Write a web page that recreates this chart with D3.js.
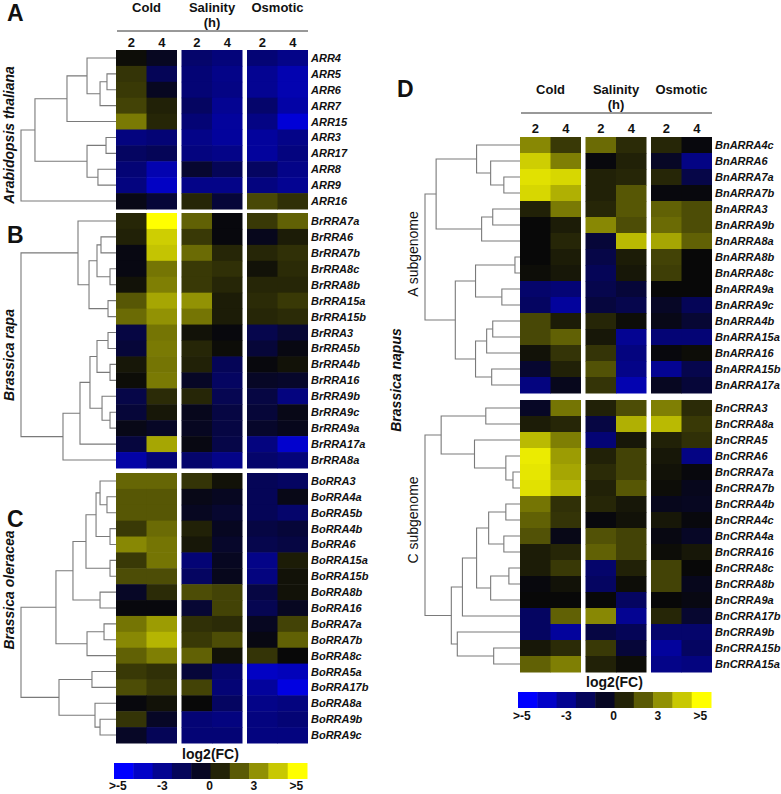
<!DOCTYPE html>
<html><head><meta charset="utf-8">
<script src="https://cdn.jsdelivr.net/npm/d3@7"></script>
<style>body{margin:0;background:#fff} text{font-family:"Liberation Sans",Arial,sans-serif}</style>
</head><body><svg id="c" width="781" height="794"></svg>
<script>
// ---------------- DATA ----------------
const stresses = ["Cold", "Salinity", "Osmotic"];
const hours = ["2", "4"];

const rowsA = ["ARR4","ARR5","ARR6","ARR7","ARR15","ARR3","ARR17","ARR8","ARR9","ARR16"];
const valsA = [
  [0.1,-0.5,-2.0,-2.3,-2.2,-2.6],
  [0.9,-1.6,-2.2,-2.6,-2.8,-3.4],
  [1.0,-0.5,-2.2,-2.5,-2.8,-3.4],
  [1.2,0.5,-1.8,-2.8,-2.0,-3.2],
  [2.3,0.6,-2.2,-3.0,-2.5,-4.2],
  [-2.4,-2.2,-2.6,-3.0,-3.0,-2.6],
  [-1.8,-1.6,-2.4,-2.6,-3.0,-2.4],
  [-2.2,-3.4,-0.8,-1.6,-1.8,-2.6],
  [-2.4,-3.8,-2.6,-2.6,-2.4,-2.8],
  [-0.3,-1.0,0.6,-1.0,1.3,0.8]
];
const treeA = [1.0, [0.853, [0.516, [0.305, "ARR4", [0.168, [0.095,"ARR5","ARR6"], "ARR7"]], "ARR15"],
                            [0.305, [0.105,"ARR3","ARR17"], [0.19,"ARR8","ARR9"]]], "ARR16"];

const rowsB = ["BrRRA7a","BrRRA6","BrRRA7b","BrRRA8c","BrRRA8b","BrRRA15a","BrRRA15b","BrRRA3","BrRRA5b","BrRRA4b","BrRRA16","BrRRA9b","BrRRA9c","BrRRA9a","BrRRA17a","BrRRA8a"];
const valsB = [
  [0.6,5.0,1.8,-0.1,1.0,1.8],
  [0.5,4.0,1.0,-0.1,-0.4,0.4],
  [-0.2,3.8,2.0,0.6,0.6,0.8],
  [-0.2,2.2,1.0,0.8,0.2,0.7],
  [0.2,2.4,1.0,0.6,0.6,0.6],
  [1.6,3.2,2.8,0.4,0.7,1.0],
  [2.0,2.8,2.2,0.4,0.6,0.7],
  [-1.2,2.2,0.2,-0.1,-1.4,-0.9],
  [-1.0,2.3,0.6,0.1,-1.0,-0.2],
  [0.3,2.2,0.5,-1.6,-0.1,0.2],
  [0.1,2.3,-0.6,-1.8,-0.6,-0.7],
  [-1.3,0.7,0.6,-1.5,-1.2,-2.4],
  [-1.0,0.3,-0.4,-1.2,-1.0,-0.3],
  [-0.3,-0.6,-0.5,-1.2,-0.7,-0.4],
  [-1.1,3.2,-0.2,-1.3,-2.4,-4.0],
  [-3.2,-2.2,-2.0,-2.6,-2.0,-2.3]
];
const treeB = [1.0,
  [0.40, "BrRRA7a", [0.284, [0.20, [0.158,"BrRRA6","BrRRA7b"], [0.063,"BrRRA8c","BrRRA8b"]], [0.084,"BrRRA15a","BrRRA15b"]]],
  [0.558, [0.379, [0.274, [0.20, [0.084,"BrRRA3","BrRRA5b"], [0.063,"BrRRA4b","BrRRA16"]],
                          [0.147, "BrRRA9b", [0.063,"BrRRA9c","BrRRA9a"]]], "BrRRA17a"], "BrRRA8a"]];

const rowsC = ["BoRRA3","BoRRA4a","BoRRA5b","BoRRA4b","BoRRA6","BoRRA15a","BoRRA15b","BoRRA8b","BoRRA16","BoRRA7a","BoRRA7b","BoRRA8c","BoRRA5a","BoRRA17b","BoRRA8a","BoRRA9b","BoRRA9c"];
const valsC = [
  [1.9,1.9,0.9,0.2,-1.6,-1.8],
  [1.6,1.6,-0.3,-0.5,-1.6,-0.3],
  [1.6,1.6,-0.5,-0.8,-1.6,-2.0],
  [1.0,2.0,0.5,-0.5,-1.2,-1.0],
  [2.6,2.2,0.3,-0.7,-1.4,-1.2],
  [1.0,2.2,-2.2,-0.5,-2.6,0.4],
  [1.4,1.4,-1.8,-0.4,-2.4,0.2],
  [-0.6,0.7,1.4,1.2,-1.2,0.2],
  [-0.1,-0.1,-0.9,1.2,-1.5,-0.5],
  [2.2,3.0,0.8,0.7,-0.5,1.2],
  [2.6,3.5,1.0,1.4,-0.2,1.8],
  [1.8,2.4,1.8,0.2,0.9,0.0],
  [1.0,0.8,-1.0,-2.0,-3.8,-3.6],
  [1.4,1.0,1.2,-2.2,-3.0,-4.4],
  [-0.1,0.2,0.0,-1.8,-2.6,-2.4],
  [0.9,-0.6,-2.2,-2.4,-2.4,-2.2],
  [-0.6,-1.6,-2.2,-2.2,-2.4,-2.4]
];
const treeC = [1.0,
  [0.632, [0.453, [0.316, [0.21, [0.168, "BoRRA3", [0.095,"BoRRA4a","BoRRA5b"]], [0.063,"BoRRA4b","BoRRA6"]],
                          [0.063,"BoRRA15a","BoRRA15b"]], [0.168,"BoRRA8b","BoRRA16"]],
          [0.305, [0.126,"BoRRA7a","BoRRA7b"], "BoRRA8c"]],
  [0.60, [0.253,"BoRRA5a","BoRRA17b"], [0.221, "BoRRA8a", [0.168,"BoRRA9b","BoRRA9c"]]]];

const rowsDA = ["BnARRA4c","BnARRA6","BnARRA7a","BnARRA7b","BnARRA3","BnARRA9b","BnARRA8a","BnARRA8b","BnARRA8c","BnARRA9a","BnARRA9c","BnARRA4b","BnARRA15a","BnARRA16","BnARRA15b","BnARRA17a"];
const valsDA = [
  [2.6,1.0,2.0,0.7,0.6,-0.1],
  [4.0,2.4,-0.1,0.5,-0.6,-2.5],
  [4.4,4.2,0.5,0.6,0.6,-1.3],
  [4.2,3.4,0.5,1.6,-0.1,-0.1],
  [0.5,2.3,0.6,1.6,1.8,1.4],
  [0.0,0.4,2.6,1.4,2.0,1.4],
  [0.0,0.6,-1.0,3.6,3.2,1.8],
  [0.0,0.4,-1.3,0.4,1.2,0.0],
  [0.1,0.3,-1.6,0.3,1.1,0.0],
  [-2.0,-2.2,-1.4,-1.0,0.0,0.0],
  [-1.8,-3.0,-1.1,-1.4,-0.6,-1.6],
  [1.3,0.4,0.6,0.1,-0.3,-0.9],
  [1.3,1.8,0.3,-2.8,-2.2,-2.2],
  [0.2,0.9,0.9,-2.4,-0.1,0.1],
  [-0.8,0.5,1.5,-2.6,-2.8,-1.4],
  [-2.4,-0.4,0.9,-3.4,-0.5,-1.0]
];
const treeDA = [1.0,
  [0.883, [0.457, "BnARRA4c", [0.309, "BnARRA6", [0.17,"BnARRA7a","BnARRA7b"]]],
          [0.404, [0.287,"BnARRA3","BnARRA9b"], "BnARRA8a"]],
  [0.681, [0.468, [0.053,"BnARRA8b","BnARRA8c"], [0.191,"BnARRA9a","BnARRA9c"]],
          [0.468, [0.351, [0.287,"BnARRA4b","BnARRA15a"], "BnARRA16"], [0.298,"BnARRA15b","BnARRA17a"]]]];

const rowsDC = ["BnCRRA3","BnCRRA8a","BnCRRA5","BnCRRA6","BnCRRA7a","BnCRRA7b","BnCRRA4b","BnCRRA4c","BnCRRA4a","BnCRRA16","BnCRRA8c","BnCRRA8b","BnCRRA9a","BnCRRA17b","BnCRRA9b","BnCRRA15b","BnCRRA15a"];
const valsDC = [
  [-0.6,2.2,0.5,1.4,2.4,0.7],
  [0.4,0.6,-1.2,3.4,3.6,1.0],
  [3.6,2.4,-2.2,0.3,0.5,0.8],
  [4.6,3.0,0.5,1.2,0.3,-2.5],
  [4.5,3.2,0.7,1.2,0.2,-0.1],
  [4.4,3.5,0.5,1.6,0.1,-0.4],
  [2.2,0.8,0.6,0.3,-0.4,-0.5],
  [1.8,0.9,-0.1,0.2,0.3,-0.1],
  [1.5,-0.3,1.5,1.2,-0.2,-0.6],
  [0.4,0.6,1.8,1.2,0.1,0.3],
  [0.4,1.0,-2.0,0.5,1.2,0.0],
  [-0.1,0.2,-1.8,0.1,1.2,-0.4],
  [0.0,0.0,0.0,-1.8,0.0,-0.2],
  [-1.8,1.8,2.6,-2.8,0.6,-0.8],
  [-1.8,-3.0,-1.2,-1.6,-2.0,-2.0],
  [0.3,0.7,1.0,-1.0,-3.0,-1.8],
  [1.8,2.4,0.5,0.1,-2.6,-2.4]
];
const treeDC = [1.0,
  [0.83, [0.36,"BnCRRA3","BnCRRA8a"], [0.479, "BnCRRA5", [0.149, "BnCRRA6", [0.074,"BnCRRA7a","BnCRRA7b"]]]],
  [0.723, [0.606, [0.457, [0.33, [0.149,"BnCRRA4b","BnCRRA4c"], [0.17,"BnCRRA4a","BnCRRA16"]],
                          [0.309, [0.117,"BnCRRA8c","BnCRRA8b"], "BnCRRA9a"]], "BnCRRA17b"],
          [0.66, "BnCRRA9b", [0.277,"BnCRRA15b","BnCRRA15a"]]]];

const legendValues = [-5, -3.889, -2.778, -1.667, -0.556, 0.556, 1.667, 2.778, 3.889, 5];
const legendTicks = [">-5", "-3", "0", "3", ">5"];
const legendTickPos = [0.2, 2.5, 4.95, 7.25, 9.45];

// ---------------- DRAWING ----------------
const svg = d3.select("#c");
const color = d3.scaleLinear().domain([-5, 0, 5]).range(["#0000ff", "#080808", "#ffff00"]).clamp(true);
const font = "'Liberation Sans', Arial, sans-serif";

function heatPanel(cfg) {
  const { rows, vals, tree, left, top, bottom } = cfg;
  const width = 192;
  const g = svg.append("g");
  const y = d3.scaleBand().domain(rows).range([top, bottom]);
  const gx = d3.scaleBand().domain(stresses).range([left, left + width]).paddingInner(0.0687);
  const hx = d3.scaleBand().domain(hours).range([0, gx.bandwidth()]);
  const cells = [];
  rows.forEach((r, i) => stresses.forEach((s, si) => hours.forEach((h, hi) => {
    cells.push({ r, s, h, v: vals[i][si * 2 + hi] });
  })));
  g.selectAll("rect.cell").data(cells).join("rect")
    .attr("x", d => gx(d.s) + hx(d.h))
    .attr("y", d => y(d.r))
    .attr("width", d => hx.bandwidth() + (d.h === "2" ? 0.5 : 0))
    .attr("height", y.bandwidth() + 0.5)
    .attr("fill", d => color(d.v));
  // row labels
  g.selectAll("text.lab").data(rows).join("text")
    .attr("x", left + width + 3)
    .attr("y", d => y(d) + y.bandwidth() / 2 + 4)
    .attr("font-size", "11px").attr("font-weight", "bold").attr("font-style", "italic")
    .attr("fill", "#111").attr("font-family", font)
    .text(d => d);
  // dendrogram
  const hs = d3.scaleLinear().domain([0, 1]).range([left, left - 95]);
  const dg = svg.append("g").attr("stroke", "#7a7a7a").attr("stroke-width", 1.1).attr("fill", "none");
  function lay(node) {
    if (typeof node === "string") return { x: left, y: y(node) + y.bandwidth() / 2 };
    const a = lay(node[1]), b = lay(node[2]);
    const x = hs(node[0]);
    const p = d3.path();
    p.moveTo(a.x, a.y); p.lineTo(x, a.y); p.lineTo(x, b.y); p.lineTo(b.x, b.y);
    dg.append("path").attr("d", p.toString());
    return { x, y: (a.y + b.y) / 2 };
  }
  lay(tree);
}

function header(left, opt) {
  const width = 192;
  const gx = d3.scaleBand().domain(stresses).range([left, left + width]).paddingInner(0.0687);
  const hx = d3.scaleBand().domain(hours).range([0, gx.bandwidth()]);
  const g = svg.append("g").attr("font-family", font).attr("font-weight", "bold").attr("fill", "#111");
  g.selectAll("text.s").data(stresses).join("text")
    .attr("x", d => gx(d) + gx.bandwidth() / 2).attr("y", opt.titleY)
    .attr("text-anchor", "middle").attr("font-size", "13px").text(d => d);
  g.append("text").attr("x", gx("Salinity") + gx.bandwidth() / 2).attr("y", opt.hY)
    .attr("text-anchor", "middle").attr("font-size", "13px").text("(h)");
  g.append("line").attr("x1", left + 1).attr("x2", left + width).attr("y1", opt.lineY).attr("y2", opt.lineY)
    .attr("stroke", "#333").attr("stroke-width", 1);
  const nums = [];
  stresses.forEach(s => hours.forEach(h => nums.push({ s, h })));
  g.selectAll("text.n").data(nums).join("text")
    .attr("x", d => gx(d.s) + hx(d.h) + hx.bandwidth() / 2).attr("y", opt.numY)
    .attr("text-anchor", "middle").attr("font-size", "13px").text(d => d.h);
}

function legend(x0, y0, titleY, tickY) {
  const w = 193, h = 16;
  const bx = d3.scaleBand().domain(d3.range(legendValues.length)).range([x0, x0 + w]);
  const lx = d3.scaleLinear().domain([0, legendValues.length]).range([x0, x0 + w]);
  svg.append("g").selectAll("rect").data(legendValues).join("rect")
    .attr("x", (d, i) => bx(i)).attr("y", y0).attr("width", bx.bandwidth() + 0.5).attr("height", h)
    .attr("fill", d => color(d));
  svg.append("text").attr("x", x0 + w / 2).attr("y", titleY).attr("text-anchor", "middle")
    .attr("font-family", font).attr("font-weight", "bold").attr("font-size", "14px").attr("fill", "#111").text("log2(FC)");
  svg.append("g").selectAll("text").data(legendTicks).join("text")
    .attr("x", (d, i) => lx(legendTickPos[i])).attr("y", tickY).attr("text-anchor", "middle")
    .attr("font-family", font).attr("font-weight", "bold").attr("font-size", "12px").attr("fill", "#111")
    .text(d => d);
}

function vlabel(x, yc, txt, italic, bold) {
  svg.append("text").attr("transform", `translate(${x},${yc}) rotate(-90)`)
    .attr("text-anchor", "middle").attr("font-family", font)
    .attr("font-size", "14px").attr("font-weight", bold ? "bold" : "normal")
    .attr("font-style", italic ? "italic" : "normal").attr("fill", "#111").text(txt);
}
function plabel(x, y, t) {
  svg.append("text").attr("x", x).attr("y", y).attr("font-family", font)
    .attr("font-weight", "bold").attr("font-size", "23px").attr("fill", "#111").text(t);
}

// left column
header(116, { titleY: 12, hY: 27, lineY: 31, numY: 47 });
heatPanel({ rows: rowsA, vals: valsA, tree: treeA, left: 116, top: 50, bottom: 209 });
heatPanel({ rows: rowsB, vals: valsB, tree: treeB, left: 116, top: 213, bottom: 468 });
heatPanel({ rows: rowsC, vals: valsC, tree: treeC, left: 116, top: 473, bottom: 743 });
legend(114, 763, 759, 790);
plabel(7, 21, "A"); plabel(7, 243, "B"); plabel(7, 527, "C");
vlabel(14, 135, "Arabidopsis thaliana", true, true);
vlabel(14, 355, "Brassica rapa", true, true);
vlabel(14, 590, "Brassica oleracea", true, true);

// right column
header(520, { titleY: 94, hY: 109, lineY: 113, numY: 133 });
heatPanel({ rows: rowsDA, vals: valsDA, tree: treeDA, left: 520, top: 137, bottom: 393 });
heatPanel({ rows: rowsDC, vals: valsDC, tree: treeDC, left: 520, top: 400, bottom: 672 });
legend(518, 692, 687, 720);
plabel(397, 97, "D");
vlabel(401, 380, "Brassica napus", true, true);
vlabel(418, 254, "A subgenome", false, false);
vlabel(418, 520, "C subgenome", false, false);
</script></body></html>
